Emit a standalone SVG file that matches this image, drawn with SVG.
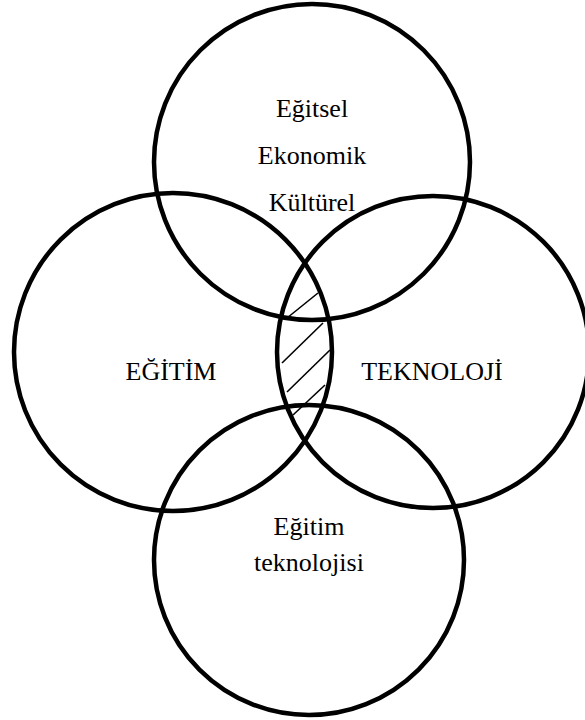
<svg xmlns="http://www.w3.org/2000/svg" width="585" height="720" viewBox="0 0 585 720">
<style>
.c{fill:none;stroke:#000;stroke-width:4.5}
.h{stroke:#000;stroke-width:1.6}
text{font-size:26px;fill:#000;text-anchor:middle}
</style>
<rect width="585" height="720" fill="#fff"/>
<g id="hatch">
<line class="h" x1="287" y1="318" x2="318" y2="293"/>
<line class="h" x1="282" y1="363" x2="323" y2="323"/>
<line class="h" x1="287" y1="392" x2="330" y2="350"/>
<line class="h" x1="293" y1="415" x2="325" y2="385"/>
</g>
<g font-family="'Liberation Serif', 'Times New Roman', 'DejaVu Serif', serif">
<g id="top">
<circle class="c" cx="312" cy="162" r="158"/>
<text x="312" y="117">Eğitsel</text>
<text x="312" y="164">Ekonomik</text>
<text x="312" y="211">Kültürel</text>
</g>
<g id="left">
<circle class="c" cx="173" cy="352" r="159"/>
<text x="171" y="380">EĞİTİM</text>
</g>
<g id="right">
<circle class="c" cx="433" cy="352" r="156"/>
<text x="432" y="380">TEKNOLOJİ</text>
</g>
<g id="bottom">
<circle class="c" cx="309" cy="560" r="155"/>
<text x="309" y="535">Eğitim</text>
<text x="309" y="571">teknolojisi</text>
</g>
</g>
<g id="connectors"/>
</svg>
